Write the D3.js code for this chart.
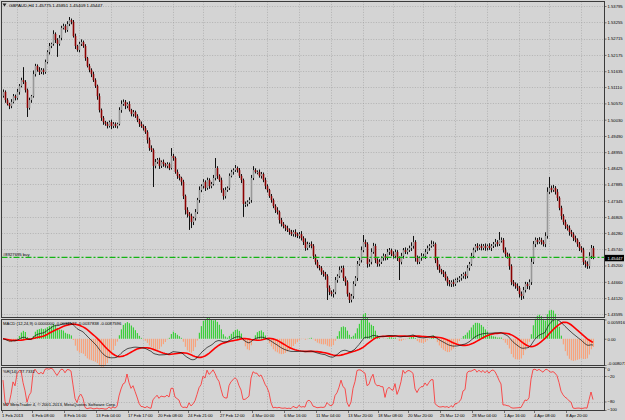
<!DOCTYPE html>
<html>
<head>
<meta charset="utf-8">
<script src="https://cdn.jsdelivr.net/npm/d3@7"></script>
<style>
  html, body { margin: 0; padding: 0; background: #d4d4d4; }
  svg { display: block; font-family: "Liberation Sans", Arial, sans-serif; }
</style>
</head>
<body>
<script>
// GBPAUD H4, one value per bar (left to right)
const header = "GBPAUD,H4  1.45775 1.45851 1.45409 1.45447";
const firstOpen = 1.5082;
const closes = [
  1.5095, 1.5068, 1.5055, 1.5048, 1.5062, 1.5081, 1.5075, 1.5095, 1.5115, 1.5134,
  1.5128, 1.5101, 1.5042, 1.5068, 1.5081, 1.5154, 1.5181, 1.5168, 1.5161, 1.5168,
  1.5161, 1.5194, 1.5227, 1.5247, 1.5254, 1.5287, 1.5267, 1.5254, 1.5274, 1.5307,
  1.5313, 1.5300, 1.5320, 1.5333, 1.5327, 1.5280, 1.5247, 1.5234, 1.5254, 1.5260,
  1.5247, 1.5207, 1.5181, 1.5168, 1.5154, 1.5134, 1.5115, 1.5081, 1.5035, 1.5009,
  1.4995, 1.4989, 1.4982, 1.4995, 1.4982, 1.4989, 1.4982, 1.4989, 1.5035, 1.5055,
  1.5062, 1.5048, 1.5055, 1.5035, 1.5022, 1.5028, 1.5015, 1.5002, 1.4989, 1.4982,
  1.4975, 1.4962, 1.4936, 1.4909, 1.4903, 1.4850, 1.4863, 1.4870, 1.4850, 1.4863,
  1.4856, 1.4850, 1.4856, 1.4843, 1.4883, 1.4876, 1.4830, 1.4817, 1.4810, 1.4797,
  1.4750, 1.4704, 1.4691, 1.4684, 1.4664, 1.4677, 1.4697, 1.4737, 1.4770, 1.4783,
  1.4797, 1.4777, 1.4803, 1.4783, 1.4790, 1.4810, 1.4843, 1.4817, 1.4803, 1.4770,
  1.4750, 1.4770, 1.4777, 1.4817, 1.4830, 1.4836, 1.4843, 1.4836, 1.4817, 1.4803,
  1.4724, 1.4724, 1.4730, 1.4737, 1.4810, 1.4836, 1.4830, 1.4830, 1.4817, 1.4823,
  1.4803, 1.4783, 1.4770, 1.4750, 1.4737, 1.4717, 1.4704, 1.4697, 1.4671, 1.4658,
  1.4651, 1.4644, 1.4638, 1.4631, 1.4624, 1.4631, 1.4624, 1.4618, 1.4624, 1.4611,
  1.4598, 1.4578, 1.4591, 1.4591, 1.4585, 1.4552, 1.4532, 1.4518, 1.4512, 1.4499,
  1.4492, 1.4485, 1.4446, 1.4432, 1.4426, 1.4432, 1.4472, 1.4485, 1.4505, 1.4512,
  1.4479, 1.4465, 1.4426, 1.4406, 1.4419, 1.4459, 1.4479, 1.4525, 1.4538, 1.4571,
  1.4598, 1.4591, 1.4525, 1.4532, 1.4565, 1.4585, 1.4538, 1.4525, 1.4532, 1.4545,
  1.4552, 1.4545, 1.4565, 1.4571, 1.4558, 1.4552, 1.4565, 1.4545, 1.4532, 1.4552,
  1.4571, 1.4565, 1.4571, 1.4578, 1.4585, 1.4598, 1.4545, 1.4532, 1.4545, 1.4552,
  1.4552, 1.4565, 1.4578, 1.4585, 1.4591, 1.4591, 1.4538, 1.4518, 1.4505, 1.4499,
  1.4492, 1.4479, 1.4465, 1.4459, 1.4465, 1.4459, 1.4472, 1.4472, 1.4479, 1.4485,
  1.4492, 1.4485, 1.4512, 1.4525, 1.4552, 1.4571, 1.4585, 1.4578, 1.4585, 1.4578,
  1.4585, 1.4578, 1.4585, 1.4578, 1.4585, 1.4591, 1.4598, 1.4591, 1.4605, 1.4605,
  1.4571, 1.4558, 1.4552, 1.4518, 1.4465, 1.4459, 1.4452, 1.4446, 1.4426, 1.4419,
  1.4439, 1.4459, 1.4452, 1.4465, 1.4532, 1.4591, 1.4605, 1.4598, 1.4605, 1.4598,
  1.4591, 1.4618, 1.4764, 1.4777, 1.4770, 1.4777, 1.4764, 1.4744, 1.4711, 1.4684,
  1.4664, 1.4651, 1.4644, 1.4631, 1.4624, 1.4611, 1.4605, 1.4591, 1.4578, 1.4571,
  1.4532, 1.4525, 1.4518, 1.4552, 1.4578, 1.4545
];
// wick lengths in pips above/below the body
const upperWick = [
  8, 5, 6, 4, 9, 7, 5, 10, 6, 8,   43, 6, 5, 8, 4, 12, 7, 5, 9, 6,
  5, 8, 6, 10, 4, 12, 5, 6, 9, 7,  8, 6, 9, 10, 5, 6, 8, 4, 7, 9,
  5, 6, 4, 7, 5, 8, 6, 4, 9, 5,    6, 4, 7, 5, 8, 6, 5, 4, 9, 12,
  8, 6, 5, 9, 4, 7, 5, 6, 4, 8,    5, 7, 6, 8, 9, 5, 10, 6, 7, 5,
  8, 4, 6, 5, 26, 7, 5, 8, 6, 4,   7, 5, 9, 6, 8, 5, 10, 7, 12, 6,
  9, 5, 8, 6, 7, 10, 33, 6, 5, 8,  6, 9, 5, 8, 7, 6, 10, 5, 7, 6,
  5, 8, 6, 9, 10, 13, 6, 5, 8, 7,  5, 8, 6, 4, 7, 5, 6, 9, 5, 7,
  6, 4, 8, 5, 7, 6, 9, 5, 7, 10,   6, 12, 8, 5, 9, 6, 5, 7, 4, 6,
  5, 7, 6, 8, 5, 9, 10, 6, 12, 7,  8, 5, 6, 4, 7, 9, 6, 10, 8, 12,
  23, 8, 6, 9, 12, 10, 7, 6, 9, 5, 8, 6, 10, 7, 5, 9, 8, 6, 5, 10,
  7, 9, 6, 8, 12, 20, 6, 8, 5, 9,  7, 10, 8, 6, 12, 9, 5, 7, 6, 4,
  6, 8, 5, 7, 6, 9, 5, 8, 6, 7,    5, 8, 9, 7, 10, 8, 6, 9, 5, 7,
  6, 8, 5, 9, 6, 7, 10, 6, 26, 8,  6, 9, 5, 8, 6, 7, 5, 9, 6, 8,
  10, 7, 6, 9, 12, 10, 8, 6, 9, 7, 6, 12, 15, 36, 8, 10, 6, 9, 5, 7,
  6, 8, 5, 9, 7, 6, 8, 5, 7, 6,    8, 5, 9, 12, 10, 7
];
const lowerWick = [
  6, 9, 5, 10, 7, 5, 8, 6, 9, 5,   7, 8, 30, 6, 9, 5, 8, 6, 10, 7,
  9, 6, 5, 8, 7, 6, 10, 43, 6, 8,  5, 9, 6, 7, 8, 5, 10, 6, 8, 7,
  6, 9, 5, 8, 10, 6, 7, 12, 8, 10, 9, 6, 8, 5, 10, 7, 6, 8, 5, 9,
  6, 10, 7, 5, 8, 9, 6, 7, 10, 6,  8, 6, 12, 9, 7, 70, 8, 6, 10, 7,
  9, 6, 8, 7, 5, 9, 6, 10, 8, 12,  10, 15, 12, 46, 20, 10, 8, 6, 9, 7,
  8, 10, 6, 9, 7, 5, 8, 10, 6, 9,  12, 8, 6, 7, 5, 9, 6, 8, 7, 10,
  43, 10, 8, 6, 9, 7, 5, 8, 6, 9,  7, 10, 8, 6, 9, 7, 10, 8, 12, 9,
  8, 10, 7, 9, 6, 8, 10, 7, 9, 8,  10, 9, 7, 12, 8, 10, 9, 7, 8, 10,
  9, 12, 40, 10, 8, 12, 7, 9, 6, 8, 10, 12, 9, 10, 8, 9, 7, 10, 6, 8,
  7, 10, 12, 9, 8, 6, 10, 9, 8, 7, 9, 8, 6, 10, 7, 9, 8, 10, 60, 8,
  9, 7, 8, 6, 10, 9, 12, 8, 7, 9,  8, 10, 7, 9, 6, 8, 10, 12, 9, 8,
  10, 9, 12, 8, 10, 9, 7, 8, 6, 9, 8, 10, 7, 9, 6, 8, 7, 9, 6, 8,
  7, 9, 8, 6, 10, 7, 9, 8, 6, 9,   8, 10, 9, 12, 10, 8, 9, 10, 12, 13,
  9, 8, 10, 12, 9, 7, 10, 8, 6, 9, 8, 10, 9, 7, 8, 6, 9, 10, 8, 12,
  9, 10, 8, 12, 9, 10, 8, 9, 10, 8, 10, 12, 9, 8, 10, 4
];

const priceTicks = [1.53795, 1.53255, 1.52715, 1.52175, 1.51635, 1.51110, 1.50570, 1.50030,
  1.49490, 1.48955, 1.48425, 1.47885, 1.47345, 1.46805, 1.46280, 1.45740, 1.45200,
  1.44660, 1.44120, 1.43595];
const timeLabels = ["1 Feb 2013", "6 Feb 08:00", "8 Feb 16:00", "13 Feb 04:00", "17 Feb 17:00",
  "20 Feb 08:00", "24 Feb 21:00", "27 Feb 12:00", "4 Mar 00:00", "6 Mar 16:00", "11 Mar 04:00",
  "13 Mar 20:00", "18 Mar 08:00", "20 Mar 20:00", "25 Mar 12:00", "28 Mar 04:00", "1 Apr 16:00",
  "4 Apr 08:00", "8 Apr 20:00"];
const timeLabelBars = [0, 15, 31, 47, 63, 78, 93, 109, 125, 141, 157, 173, 188, 203, 219, 235, 251, 266, 282];
const macdTicks = [0.005916, 0, -0.008071];
const macdTickText = ["0.005916", "0.00", "-0.008071"];
const wprTicks = [0, -20, -80, -100];
const macdTitle = "MACD (12,24,9) 0.0000000 -0.0031527 -0.0037838 -0.0087596";
const wprTitle = "%R(14) -77.7331";
const orderPrice = 1.4547;
const orderText = "#8927695 buy";
const lastPrice = 1.45447;
const copyright = "MT MetaTrader 4, \u00a9 2001-2013, MetaQuotes Software Corp.";

const width = 625, height = 420;
const plotLeft = 1.5, plotRight = 604.5;
const mainTop = 1.5, mainBottom = 317.5;
const macdTop = 319.5, macdBottom = 365.5;
const wprTop = 367.5, wprBottom = 410.5;

// derived series
const opens = closes.map((c, i) => i ? closes[i - 1] : firstOpen);
const highs = closes.map((c, i) => Math.max(opens[i], c) + upperWick[i] / 10000);
const lows = closes.map((c, i) => Math.min(opens[i], c) - lowerWick[i] / 10000);

function ema(arr, n) {
  const k = 2 / (n + 1), out = [];
  arr.forEach((v, i) => out.push(i ? out[i - 1] + k * (v - out[i - 1]) : v));
  return out;
}
const fast = ema(closes, 12), slow = ema(closes, 24);
const macd = closes.map((c, i) => fast[i] - slow[i]);
const signal = macd.map((v, i) => d3.mean(macd.slice(Math.max(0, i - 8), i + 1)));
// histogram drawn as the oscillator of main vs signal, scaled like the indicator
const histScale = 3;
const hist = macd.map((v, i) => (v - signal[i]) * histScale);
const wpr = closes.map((c, i) => {
  const hh = d3.max(highs.slice(Math.max(0, i - 13), i + 1));
  const ll = d3.min(lows.slice(Math.max(0, i - 13), i + 1));
  return -100 * (hh - c) / (hh - ll);
});

// scales
const x = d3.scaleLinear().domain([0, closes.length - 1]).range([3, 3 + 2 * (closes.length - 1)]);
const y = d3.scaleLinear().domain([1.43595, 1.53795]).range([314, 6]);
const yMacd = d3.scaleLinear().domain([-0.008071, 0.005916]).range([365, 319.5]);
const yWpr = d3.scaleLinear().domain([-100, 0]).range([410, 367.5]);

const svg = d3.select("body").append("svg")
  .attr("width", width)
  .attr("height", height)
  .attr("viewBox", [0, 0, width, height]);

svg.append("rect").attr("width", width).attr("height", height).attr("fill", "#d4d4d4");

const gridColor = "#9c9c9c";
const grid = svg.append("g")
  .attr("stroke", gridColor)
  .attr("stroke-width", 0.6)
  .attr("stroke-dasharray", "1,1.6");

// horizontal grid in main window
grid.selectAll(".hg").data(priceTicks).join("line")
  .attr("x1", plotLeft).attr("x2", plotRight)
  .attr("y1", d => Math.round(y(d)) + 0.5).attr("y2", d => Math.round(y(d)) + 0.5);

// vertical grid, all windows
const panels = [[mainTop, mainBottom], [macdTop, macdBottom], [wprTop, wprBottom]];
panels.forEach(([t, b]) => {
  grid.append("g").selectAll("line").data(timeLabelBars).join("line")
    .attr("x1", d => x(d + 7) + 0.5).attr("x2", d => x(d + 7) + 0.5)
    .attr("y1", t).attr("y2", b);
});
grid.selectAll(".wg").data([-20, -80]).join("line")
  .attr("x1", plotLeft).attr("x2", plotRight)
  .attr("y1", d => Math.round(yWpr(d)) + 0.5).attr("y2", d => Math.round(yWpr(d)) + 0.5);

// candles
const bars = svg.append("g");
bars.selectAll("line").data(closes).join("line")
  .attr("x1", (d, i) => x(i) + 0.5).attr("x2", (d, i) => x(i) + 0.5)
  .attr("y1", (d, i) => y(highs[i])).attr("y2", (d, i) => y(lows[i]))
  .attr("stroke", "#111")
  .attr("stroke-width", 1);
bars.selectAll("rect").data(closes).join("rect")
  .attr("x", (d, i) => x(i) - 0.3)
  .attr("width", 1.6)
  .attr("y", (d, i) => y(Math.max(opens[i], d)))
  .attr("height", (d, i) => Math.max(0.8, Math.abs(y(opens[i]) - y(d))))
  .attr("fill", (d, i) => d >= opens[i] ? "#979797" : "#8c0000");

// order line
svg.append("line")
  .attr("x1", plotLeft).attr("x2", plotRight)
  .attr("y1", y(orderPrice)).attr("y2", y(orderPrice))
  .attr("stroke", "#14b414")
  .attr("stroke-width", 1.3)
  .attr("stroke-dasharray", "6,2,2,2");
svg.append("text")
  .attr("x", 3).attr("y", y(orderPrice) - 1.5)
  .attr("font-size", 4.2).attr("fill", "#000")
  .text(orderText);

// MACD window
const macdG = svg.append("g");
macdG.selectAll("rect").data(hist).join("rect")
  .attr("x", (d, i) => x(i) - 0.2)
  .attr("width", 1.2)
  .attr("y", d => d > 0 ? yMacd(d) : yMacd(0))
  .attr("height", d => Math.abs(yMacd(d) - yMacd(0)))
  .attr("fill", d => d > 0 ? "#3ccf3c" : "#f7a37d");
macdG.append("path").datum(signal)
  .attr("fill", "none").attr("stroke", "#ff0000").attr("stroke-width", 1.6)
  .attr("d", d3.line().x((d, i) => x(i)).y(d => yMacd(d)));
macdG.append("path").datum(macd)
  .attr("fill", "none").attr("stroke", "#111").attr("stroke-width", 0.7)
  .attr("d", d3.line().x((d, i) => x(i)).y(d => yMacd(d)));

// WPR window
svg.append("path").datum(wpr)
  .attr("fill", "none").attr("stroke", "#ff2a2a").attr("stroke-width", 0.8)
  .attr("d", d3.line().x((d, i) => x(i)).y(d => yWpr(d)));

// window frames
svg.append("g").selectAll("rect").data(panels).join("rect")
  .attr("x", plotLeft).attr("y", d => d[0])
  .attr("width", plotRight - plotLeft).attr("height", d => d[1] - d[0])
  .attr("fill", "none").attr("stroke", "#3a3a3a").attr("stroke-width", 1);

// right price axis
const axisFont = 4.2;
const priceAxis = svg.append("g")
  .attr("transform", `translate(${plotRight},0)`)
  .call(d3.axisRight(y).tickValues(priceTicks).tickFormat(d3.format(".5f")).tickSize(2).tickPadding(1));
priceAxis.select(".domain").remove();
priceAxis.selectAll("text").attr("font-size", axisFont).attr("font-family", "Liberation Sans").attr("fill", "#000");
priceAxis.selectAll("line").attr("stroke", "#333").attr("stroke-width", 0.6);

// current price marker
const lpY = y(lastPrice);
svg.append("rect").attr("x", plotRight + 0.5).attr("y", lpY - 3.2)
  .attr("width", 19).attr("height", 6.4).attr("fill", "#000");
svg.append("text").attr("x", plotRight + 3).attr("y", lpY)
  .attr("dy", "0.35em").attr("font-size", axisFont).attr("fill", "#fff")
  .text(d3.format(".5f")(lastPrice));

const macdAxis = svg.append("g")
  .attr("transform", `translate(${plotRight},0)`)
  .call(d3.axisRight(yMacd).tickValues(macdTicks).tickFormat((d, i) => macdTickText[i]).tickSize(2).tickPadding(1));
macdAxis.select(".domain").remove();
macdAxis.selectAll("text").attr("font-size", axisFont).attr("font-family", "Liberation Sans").attr("fill", "#000");
macdAxis.selectAll("line").attr("stroke", "#333").attr("stroke-width", 0.6);
macdAxis.selectAll(".tick").filter(d => d === macdTicks[0]).select("text").attr("dy", "0.9em");
macdAxis.selectAll(".tick").filter(d => d === macdTicks[2]).select("text").attr("dy", "-0.2em");

const wprAxis = svg.append("g")
  .attr("transform", `translate(${plotRight},0)`)
  .call(d3.axisRight(yWpr).tickValues(wprTicks).tickSize(2).tickPadding(1));
wprAxis.select(".domain").remove();
wprAxis.selectAll("text").attr("font-size", axisFont).attr("font-family", "Liberation Sans").attr("fill", "#000");
wprAxis.selectAll("line").attr("stroke", "#333").attr("stroke-width", 0.6);
wprAxis.selectAll(".tick").filter(d => d === 0).select("text").attr("dy", "0.6em");
wprAxis.selectAll(".tick").filter(d => d === -100).select("text").attr("dy", "0.1em");

// time axis
const timeAxis = svg.append("g");
timeAxis.selectAll("line").data(timeLabelBars).join("line")
  .attr("x1", d => x(d) - 0.5).attr("x2", d => x(d) - 0.5)
  .attr("y1", wprBottom).attr("y2", wprBottom + 2.5)
  .attr("stroke", "#333").attr("stroke-width", 0.6);
timeAxis.selectAll("text").data(timeLabels).join("text")
  .attr("x", (d, i) => x(timeLabelBars[i]) - 1)
  .attr("y", 417)
  .attr("font-size", axisFont)
  .attr("fill", "#000")
  .text(d => d);

// window captions
svg.append("path").attr("d", "M2.5,3.5 L6.5,3.5 L4.5,6.5 Z").attr("fill", "#222");
svg.append("text").attr("x", 9).attr("y", 7).attr("font-size", 4.4).attr("fill", "#000").text(header);
svg.append("text").attr("x", 3).attr("y", 325).attr("font-size", 4.2).attr("fill", "#000").text(macdTitle);
svg.append("text").attr("x", 3).attr("y", 373).attr("font-size", 4.2).attr("fill", "#000").text(wprTitle);
svg.append("text").attr("x", 3).attr("y", 406).attr("font-size", 4.2).attr("fill", "#000").text(copyright);
</script>
</body>
</html>
